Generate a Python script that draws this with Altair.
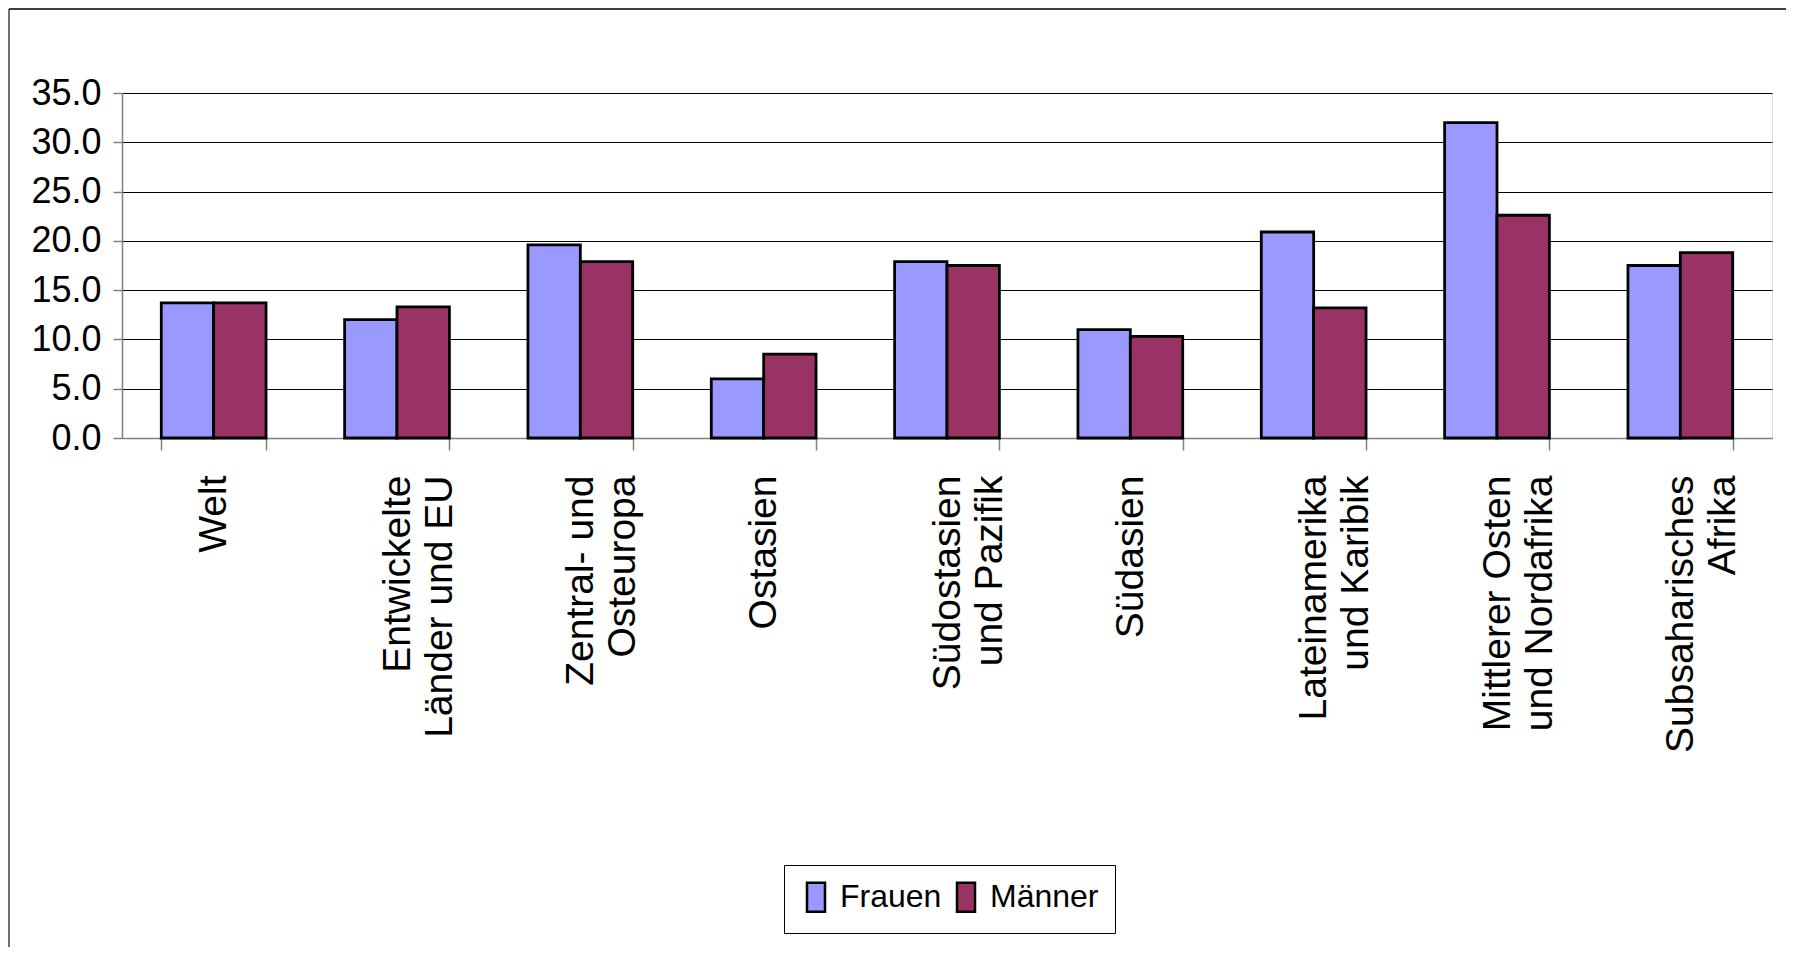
import altair as alt
import pandas as pd

categories = [
    "Welt",
    "Entwickelte\nLänder und EU",
    "Zentral- und\nOsteuropa",
    "Ostasien",
    "Südostasien\nund Pazifik",
    "Südasien",
    "Lateinamerika\nund Karibik",
    "Mittlerer Osten\nund Nordafrika",
    "Subsaharisches\nAfrika",
]
frauen = [13.7, 12.0, 19.6, 6.0, 17.9, 11.0, 20.9, 32.0, 17.5]
maenner = [13.7, 13.3, 17.9, 8.5, 17.5, 10.3, 13.2, 22.6, 18.8]
series = ["Frauen", "Männer"]
colors = ["#9999FF", "#993366"]
y_ticks = [0, 5, 10, 15, 20, 25, 30, 35]

rows = []
for c, f, m in zip(categories, frauen, maenner):
    rows.append({"region": c, "serie": "Frauen", "wert": f})
    rows.append({"region": c, "serie": "Männer", "wert": m})
df = pd.DataFrame(rows)

NARROW = "Liberation Sans Narrow, Arial Narrow, Liberation Sans, sans-serif"
REG = "Liberation Sans, Arial, sans-serif"

bars = alt.Chart(df).mark_bar(stroke="black", strokeWidth=2.8, opacity=1).encode(
    x=alt.X(
        "region:N",
        sort=categories,
        scale=alt.Scale(paddingInner=0.4286, paddingOuter=0.2143),
        axis=alt.Axis(
            title=None,
            labelAngle=270,
            labelAlign="right",
            labelBaseline="middle",
            labelExpr="split(datum.label, '\\n')",
            labelFont=REG,
            labelFontSize=39,
            labelLineHeight=42,
            labelColor="black",
            labelLimit=0,
            labelPadding=25,
            tickBand="extent",
            tickSize=12,
            tickColor="#808080",
            tickWidth=1.5,
            domainColor="#808080",
            domainWidth=1.5,
            grid=False,
        ),
    ),
    xOffset=alt.XOffset("serie:N", sort=series, scale=alt.Scale(paddingInner=0, paddingOuter=0)),
    y=alt.Y(
        "wert:Q",
        scale=alt.Scale(domain=[0, 35], nice=False),
        axis=alt.Axis(
            title=None,
            values=y_ticks,
            format=".1f",
            labelFont=NARROW,
            labelFontSize=36,
            labelColor="black",
            labelPadding=12,
            tickSize=9,
            tickColor="#808080",
            tickWidth=1.5,
            domainColor="#808080",
            domainWidth=1.5,
            grid=True,
            gridColor="black",
            gridWidth=1.2,
        ),
    ),
    color=alt.Color(
        "serie:N",
        sort=series,
        scale=alt.Scale(domain=series, range=colors),
        legend=alt.Legend(
            title=None,
            orient="none",
            legendX=662,
            legendY=772,
            direction="horizontal",
            strokeColor="black",
            fillColor="white",
            padding=16,
            symbolType="M-0.9,-1.45H0.9V1.45H-0.9Z",
            symbolSize=400,
            symbolStrokeColor="black",
            symbolStrokeWidth=2.5,
            symbolOpacity=1,
            labelFont=NARROW,
            labelFontSize=32,
            labelColor="black",
            labelOffset=8,
            labelLimit=0,
            columnPadding=8,
        ),
    ),
)

one = pd.DataFrame({"k": [0]})
left_border = alt.Chart(one).mark_rule(color="#404040", strokeWidth=1.5).encode(
    x=alt.value(-113), y=alt.value(-84), y2=alt.value(854)
)
top_border = alt.Chart(one).mark_rule(color="black", strokeWidth=1.5).encode(
    x=alt.value(-113), x2=alt.value(1664), y=alt.value(-84)
)

chart = alt.layer(bars, left_border, top_border).properties(
    width=1650, height=345, padding=0
).configure_view(strokeWidth=0).configure(background="white")

chart.save("out.html", embed_options={"renderer": "svg", "actions": False})
